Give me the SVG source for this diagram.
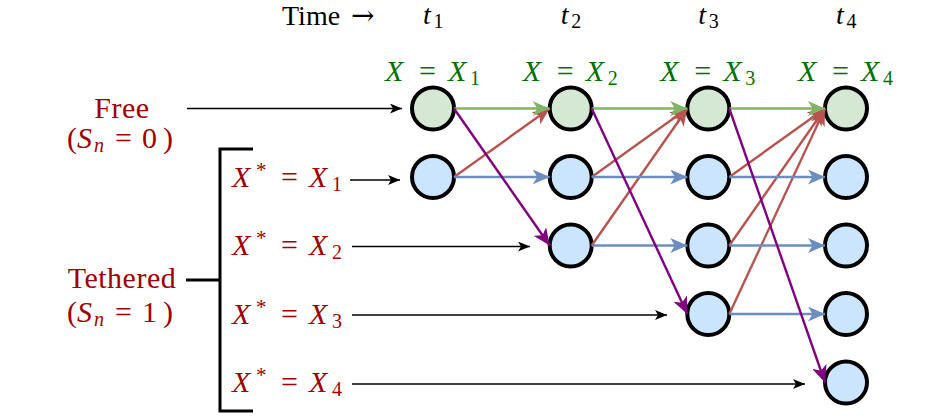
<svg xmlns="http://www.w3.org/2000/svg" width="930" height="416" viewBox="0 0 930 416">
<style>
.i{font-style:italic}
.s{font-size:20px}
.sup{font-size:21px}
.gl{fill:#007000}
.rl{fill:#a00000}
.bk{fill:#000}
.ng circle{fill:#d5e8d4;stroke:#000;stroke-width:4}
.nb circle{fill:#cce5ff;stroke:#000;stroke-width:4}
.e{fill:none;stroke-width:2.4}
.eg{stroke:#82b366;marker-end:url(#ag)}
.er{stroke:#b85450;marker-end:url(#ar)}
.eb{stroke:#6c8ebf;marker-end:url(#ab)}
.ep{stroke:#800080;marker-end:url(#ap)}
.ek{fill:none;stroke:#000;stroke-width:1.5;marker-end:url(#ak)}
.br{fill:none;stroke:#000;stroke-width:3}
</style>
<defs>
<marker id="ag" markerUnits="userSpaceOnUse" markerWidth="17" markerHeight="15" refX="17" refY="7.5" orient="auto"><path d="M0,0 L17,7.5 L0,15 L4.5,7.5 Z" fill="#82b366"/></marker>
<marker id="ar" markerUnits="userSpaceOnUse" markerWidth="17" markerHeight="15" refX="17" refY="7.5" orient="auto"><path d="M0,0 L17,7.5 L0,15 L4.5,7.5 Z" fill="#b85450"/></marker>
<marker id="ab" markerUnits="userSpaceOnUse" markerWidth="17" markerHeight="15" refX="17" refY="7.5" orient="auto"><path d="M0,0 L17,7.5 L0,15 L4.5,7.5 Z" fill="#6c8ebf"/></marker>
<marker id="ap" markerUnits="userSpaceOnUse" markerWidth="17" markerHeight="15" refX="17" refY="7.5" orient="auto"><path d="M0,0 L17,7.5 L0,15 L4.5,7.5 Z" fill="#800080"/></marker>
<marker id="ak" markerUnits="userSpaceOnUse" markerWidth="12" markerHeight="10" refX="12" refY="5" orient="auto"><path d="M0,0 L12,5 L0,10 L3,5 Z" fill="#000"/></marker>
</defs>

<g font-family="Liberation Serif, serif" font-size="30">
<g id="header">
<text class="bk" y="25" font-size="28"><tspan x="282">Time</tspan><tspan x="351" font-family="DejaVu Serif, serif" font-size="28">→</tspan></text>
<text class="bk" y="24" font-size="28"><tspan class="i" x="423">t</tspan><tspan class="s" x="433.5" dy="4">1</tspan></text>
<text class="bk" y="24" font-size="28"><tspan class="i" x="560.7">t</tspan><tspan class="s" x="571.2" dy="4">2</tspan></text>
<text class="bk" y="24" font-size="28"><tspan class="i" x="698.3">t</tspan><tspan class="s" x="708.8" dy="4">3</tspan></text>
<text class="bk" y="24" font-size="28"><tspan class="i" x="836">t</tspan><tspan class="s" x="846.5" dy="4">4</tspan></text>
</g>

<g id="green-labels">
<text class="gl" y="81"><tspan class="i" x="385">X</tspan><tspan x="419">=</tspan><tspan class="i" x="448">X</tspan><tspan class="s" x="470" dy="4">1</tspan></text>
<text class="gl" y="81"><tspan class="i" x="522.7">X</tspan><tspan x="556.7">=</tspan><tspan class="i" x="585.7">X</tspan><tspan class="s" x="607.7" dy="4">2</tspan></text>
<text class="gl" y="81"><tspan class="i" x="660.3">X</tspan><tspan x="694.3">=</tspan><tspan class="i" x="723.3">X</tspan><tspan class="s" x="745.3" dy="4">3</tspan></text>
<text class="gl" y="81"><tspan class="i" x="798">X</tspan><tspan x="832">=</tspan><tspan class="i" x="861">X</tspan><tspan class="s" x="883" dy="4">4</tspan></text>
</g>

<g id="free-label">
<text class="rl" x="122" y="118" text-anchor="middle" letter-spacing="0.5">Free</text>
<text class="rl" y="148"><tspan x="67">(</tspan><tspan class="i" x="77">S</tspan><tspan class="s i" x="94" dy="4">n</tspan><tspan x="115" dy="-4">=</tspan><tspan x="142">0</tspan><tspan x="163">)</tspan></text>
</g>

<g id="tethered-label">
<text class="rl" x="122" y="288" text-anchor="middle" letter-spacing="0.5">Tethered</text>
<text class="rl" y="322"><tspan x="67">(</tspan><tspan class="i" x="77">S</tspan><tspan class="s i" x="94" dy="4">n</tspan><tspan x="115" dy="-4">=</tspan><tspan x="142">1</tspan><tspan x="163">)</tspan></text>
<path class="br" d="M253,149 H220 V411 H253 M186,280 H220"/>
</g>

<g id="tether-labels">
<text class="rl" y="187"><tspan class="i" x="232">X</tspan><tspan class="sup" x="256" dy="-10">*</tspan><tspan x="281" dy="10">=</tspan><tspan class="i" x="309">X</tspan><tspan class="s" x="332" dy="4">1</tspan></text>
<text class="rl" y="255"><tspan class="i" x="232">X</tspan><tspan class="sup" x="256" dy="-10">*</tspan><tspan x="281" dy="10">=</tspan><tspan class="i" x="309">X</tspan><tspan class="s" x="332" dy="4">2</tspan></text>
<text class="rl" y="323.5"><tspan class="i" x="232">X</tspan><tspan class="sup" x="256" dy="-10">*</tspan><tspan x="281" dy="10">=</tspan><tspan class="i" x="309">X</tspan><tspan class="s" x="332" dy="4">3</tspan></text>
<text class="rl" y="392"><tspan class="i" x="232">X</tspan><tspan class="sup" x="256" dy="-10">*</tspan><tspan x="281" dy="10">=</tspan><tspan class="i" x="309">X</tspan><tspan class="s" x="332" dy="4">4</tspan></text>
</g>
</g>

<g id="n-1-1" class="ng"><circle cx="433" cy="108.5" r="21"/></g>
<g id="n-1-2" class="nb"><circle cx="433" cy="177" r="21"/></g>
<g id="n-2-1" class="ng"><circle cx="570.7" cy="108.5" r="21"/></g>
<g id="n-2-2" class="nb"><circle cx="570.7" cy="177" r="21"/></g>
<g id="n-2-3" class="nb"><circle cx="570.7" cy="245.5" r="21"/></g>
<g id="n-3-1" class="ng"><circle cx="708.3" cy="108.5" r="21"/></g>
<g id="n-3-2" class="nb"><circle cx="708.3" cy="177" r="21"/></g>
<g id="n-3-3" class="nb"><circle cx="708.3" cy="245.5" r="21"/></g>
<g id="n-3-4" class="nb"><circle cx="708.3" cy="314" r="21"/></g>
<g id="n-4-1" class="ng"><circle cx="846" cy="108.5" r="21"/></g>
<g id="n-4-2" class="nb"><circle cx="846" cy="177" r="21"/></g>
<g id="n-4-3" class="nb"><circle cx="846" cy="245.5" r="21"/></g>
<g id="n-4-4" class="nb"><circle cx="846" cy="314" r="21"/></g>
<g id="n-4-5" class="nb"><circle cx="846" cy="382.5" r="21"/></g>

<g id="connectors">
<path class="ek" d="M187,108.5 H402"/>
<path class="ek" d="M350,180 H400"/>
<path class="ek" d="M352,246.5 H530"/>
<path class="ek" d="M352,315 H667"/>
<path class="ek" d="M352,384 H805"/>

<path class="e er" d="M454,177 L549.7,108.5"/>
<path class="e er" d="M591.7,177 L687.3,108.5"/>
<path class="e er" d="M591.7,245.5 L687.3,108.5"/>
<path class="e er" d="M729.3,177 L825,108.5"/>
<path class="e er" d="M729.3,245.5 L825,108.5"/>
<path class="e er" d="M729.3,314 L825,108.5"/>

<path class="e eb" d="M454,177 H549.7"/>
<path class="e eb" d="M591.7,177 H687.3"/>
<path class="e eb" d="M591.7,245.5 H687.3"/>
<path class="e eb" d="M729.3,177 H825"/>
<path class="e eb" d="M729.3,245.5 H825"/>
<path class="e eb" d="M729.3,314 H825"/>

<path class="e eg" d="M454,108.5 H549.7"/>
<path class="e eg" d="M591.7,108.5 H687.3"/>
<path class="e eg" d="M729.3,108.5 H825"/>

<path class="e ep" d="M454,108.5 L549.7,245.5"/>
<path class="e ep" d="M591.7,108.5 L687.3,314"/>
<path class="e ep" d="M729.3,108.5 L825,382.5"/>
</g>
</svg>
